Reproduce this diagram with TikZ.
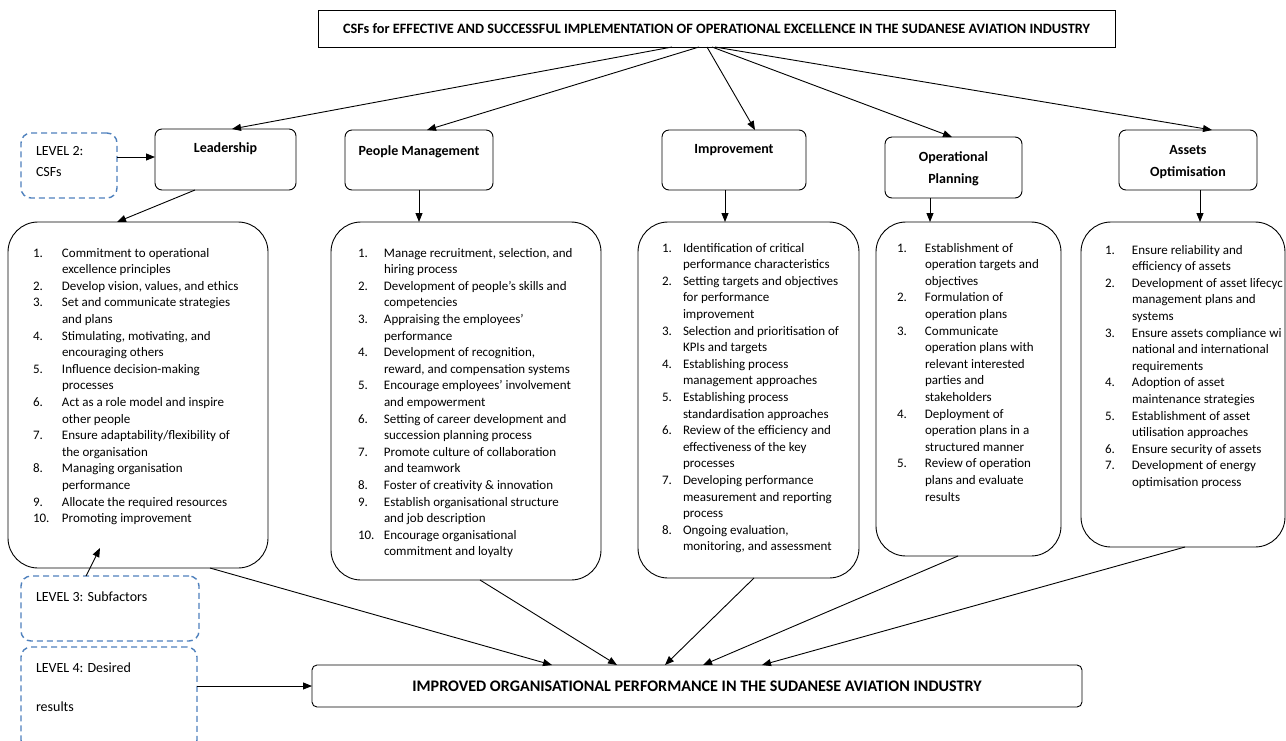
\documentclass[tikz,border=0pt]{standalone}
\usepackage{fontspec}
\setmainfont{Carlito}
\usepackage{array}
\usetikzlibrary{arrows.meta,calc}
\definecolor{lvlblue}{RGB}{79,129,189}
\newcommand{\lstbl}[2]{\begin{tabular}[t]{@{}p{#1}@{}l@{}}#2\end{tabular}}
\tikzset{
  every node/.style={inner sep=0pt, outer sep=0pt},
  titlebox/.style={draw=black, line width=0.9pt},
  hbox/.style={draw=black, line width=0.9pt, rounded corners=7pt},
  lbox/.style={draw=black, line width=0.9pt, rounded corners=30pt},
  resbox/.style={draw=black, line width=0.9pt, rounded corners=5pt},
  lvl/.style={draw=lvlblue, line width=1.4pt, dash pattern=on 6pt off 4pt, rounded corners=10pt},
  conn/.style={draw=black, line width=0.9pt, -{Triangle[length=9pt,width=7pt]}},
  hdr/.style={font=\fontsize{14}{21.5}\selectfont\bfseries, align=center},
  lvltxt/.style={font=\fontsize{14}{17}\selectfont, anchor=west},
  lsttxt/.style={font=\fontsize{13}{16.6}\selectfont, anchor=base west},
}
\begin{document}
\begin{tikzpicture}[x=1pt,y=-1pt]
\useasboundingbox (0,0) rectangle (1286,740);
\path[fill=white] (0,0) rectangle (1286,740);

% title
\node[titlebox, minimum width=797pt, minimum height=37pt] (title) at (716.5,28.5) {};
\node[font=\fontsize{14.3}{17}\selectfont\bfseries] (titleT) at (716.5,28.5) {CSFs for EFFECTIVE AND SUCCESSFUL IMPLEMENTATION OF OPERATIONAL EXCELLENCE IN THE SUDANESE AVIATION INDUSTRY};

% level 2 CSF boxes
\node[hbox, minimum width=141pt, minimum height=61pt] (lead) at (225.5,159.5) {};
\node[hdr] (leadT) at (225.5,149) {Leadership};
\node[hbox, minimum width=148pt, minimum height=60pt] (people) at (419,160) {};
\node[hdr] (peopleT) at (419,152) {People Management};
\node[hbox, minimum width=144pt, minimum height=60pt] (impr) at (734,160) {};
\node[hdr] (imprT) at (734,150) {Improvement};
\node[hbox, minimum width=137pt, minimum height=61pt] (opp) at (953.5,167.5) {};
\node[hdr] (oppT) at (953.5,169) {Operational\\Planning};
\node[hbox, minimum width=138pt, minimum height=60pt] (assets) at (1188,160) {};
\node[hdr] (assetsT) at (1188,162) {Assets\\Optimisation};

% level boxes
\node[lvl, minimum width=96pt, minimum height=65pt] (lv2) at (69,165.5) {};
\node[lvltxt] (lv2a) at (36,151) {LEVEL 2:};
\node[lvltxt] (lv2b) at (36,172) {CSFs};
\node[lvl, minimum width=178pt, minimum height=65pt] (lv3) at (110,608.5) {};
\node[lvltxt] (lv3a) at (36,597) {LEVEL 3: Subfactors};
\node[lvl, minimum width=176pt, minimum height=103pt] (lv4) at (109,698.5) {};
\node[lvltxt] (lv4a) at (36,668) {LEVEL 4: Desired};
\node[lvltxt] (lv4b) at (36,707) {results};

% list boxes
\node[lbox, minimum width=260pt, minimum height=346pt] (leadList) at (138,395) {};
\node[lbox, minimum width=270pt, minimum height=358pt] (peopleList) at (466,401) {};
\node[lbox, minimum width=221pt, minimum height=356pt] (imprList) at (748.5,400) {};
\node[lbox, minimum width=185pt, minimum height=334pt] (oppList) at (968.5,389) {};
\node[lbox, minimum width=204pt, minimum height=325pt] (assetsList) at (1183,384.5) {};

\node[lsttxt] (leadL) at (33,257) {\lstbl{29pt}{%
1. & Commitment to operational\\
 & excellence principles\\
2. & Develop vision, values, and ethics\\
3. & Set and communicate strategies\\
 & and plans\\
4. & Stimulating, motivating, and\\
 & encouraging others\\
5. & Influence decision-making\\
 & processes\\
6. & Act as a role model and inspire\\
 & other people\\
7. & Ensure adaptability/flexibility of\\
 & the organisation\\
8. & Managing organisation\\
 & performance\\
9. & Allocate the required resources\\
10. & Promoting improvement}};

\node[lsttxt] (peopleL) at (358,257) {\lstbl{26pt}{%
1. & Manage recruitment, selection, and\\
 & hiring process\\
2. & Development of people’s skills and\\
 & competencies\\
3. & Appraising the employees’\\
 & performance\\
4. & Development of recognition,\\
 & reward, and compensation systems\\
5. & Encourage employees’ involvement\\
 & and empowerment\\
6. & Setting of career development and\\
 & succession planning process\\
7. & Promote culture of collaboration\\
 & and teamwork\\
8. & Foster of creativity \& innovation\\
9. & Establish organisational structure\\
 & and job description\\
10. & Encourage organisational\\
 & commitment and loyalty}};

\node[lsttxt] (imprL) at (662,252) {\lstbl{21pt}{%
1. & Identification of critical\\
 & performance characteristics\\
2. & Setting targets and objectives\\
 & for performance\\
 & improvement\\
3. & Selection and prioritisation of\\
 & KPIs and targets\\
4. & Establishing process\\
 & management approaches\\
5. & Establishing process\\
 & standardisation approaches\\
6. & Review of the efficiency and\\
 & effectiveness of the key\\
 & processes\\
7. & Developing performance\\
 & measurement and reporting\\
 & process\\
8. & Ongoing evaluation,\\
 & monitoring, and assessment}};

\node[lsttxt] (oppL) at (897,252) {\lstbl{28pt}{%
1. & Establishment of\\
 & operation targets and\\
 & objectives\\
2. & Formulation of\\
 & operation plans\\
3. & Communicate\\
 & operation plans with\\
 & relevant interested\\
 & parties and\\
 & stakeholders\\
4. & Deployment of\\
 & operation plans in a\\
 & structured manner\\
5. & Review of operation\\
 & plans and evaluate\\
 & results}};

\node[lsttxt] (assetsL) at (1105,254) {\lstbl{27pt}{%
1. & Ensure reliability and\\
 & efficiency of assets\\
2. & Development of asset lifecyc\\
 & management plans and\\
 & systems\\
3. & Ensure assets compliance wi\\
 & national and international\\
 & requirements\\
4. & Adoption of asset\\
 & maintenance strategies\\
5. & Establishment of asset\\
 & utilisation approaches\\
6. & Ensure security of assets\\
7. & Development of energy\\
 & optimisation process}};

% result box
\node[resbox, minimum width=770pt, minimum height=42pt] (result) at (697,686) {};
\node[font=\fontsize{16.1}{19}\selectfont\bfseries] (resultT) at (697,686) {IMPROVED ORGANISATIONAL PERFORMANCE IN THE SUDANESE AVIATION INDUSTRY};

% connectors: title to CSFs
\draw[conn] ($(title.south)+(-44.5,0)$) -- ($(lead.north)+(6.5,0)$);
\draw[conn] ($(title.south)+(-17.5,0)$) -- ($(people.north)+(8,0)$);
\draw[conn] ($(title.south)+(-9.5,0)$) -- ($(impr.north)+(21,0)$);
\draw[conn] ($(title.south)+(-4.5,0)$) -- ($(opp.north)+(-1.5,0)$);
\draw[conn] ($(title.south)+(-1.5,0)$) -- ($(assets.north)+(24,0)$);

% level 2 to leadership
\draw[conn] ($(lv2.east)+(0,-8.5)$) -- ($(lead.west)+(0,-2.5)$);

% CSFs to lists
\draw[conn] ($(lead.south)+(-30.5,0)$) -- ($(leadList.north)+(-21,0)$);
\draw[conn] (people.south) -- (people.south |- peopleList.north);
\coordinate (imprD) at ($(impr.south)+(-9,0)$);
\draw[conn] (imprD) -- (imprD |- imprList.north);
\coordinate (oppD) at ($(opp.south)+(-23.5,0)$);
\draw[conn] (oppD) -- (oppD |- oppList.north);
\coordinate (assetsD) at ($(assets.south)+(12,0)$);
\draw[conn] (assetsD) -- (assetsD |- assetsList.north);

% level 3 pointer
\coordinate (lv3tip) at ($(leadList.south)+(-38,-20)$);
\draw[conn] ($(lv3.north)+(-24,0)$) -- (lv3tip);

% lists to result
\draw[conn] ($(leadList.south)+(72,0)$) -- ($(result.north)+(-145,0)$);
\draw[conn] ($(peopleList.south)+(14,0)$) -- ($(result.north)+(-80,0)$);
\draw[conn] ($(imprList.south)+(5.5,0)$) -- ($(result.north)+(-32,0)$);
\draw[conn] ($(oppList.south)+(-10.5,0)$) -- ($(result.north)+(6,0)$);
\draw[conn] ($(assetsList.south)+(2,0)$) -- ($(result.north)+(65,0)$);

% level 4 to result
\draw[conn] ($(lv4.east)+(0,-12.5)$) -- (result.west);
\end{tikzpicture}
\end{document}
